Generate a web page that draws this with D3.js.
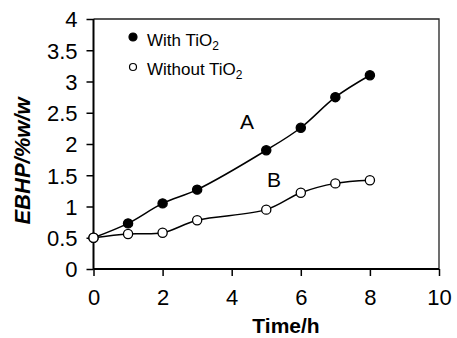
<!DOCTYPE html>
<html>
<head>
<meta charset="utf-8">
<script src="https://cdn.jsdelivr.net/npm/d3@7/dist/d3.min.js"></script>
<style>
  html, body { margin: 0; padding: 0; background: #fff; }
  svg { display: block; }
  text { font-family: "Liberation Sans", Arial, Helvetica, sans-serif; fill: #000; }
</style>
</head>
<body>
<svg id="chart" width="457" height="338"></svg>
<script>
// ---- data ----
const time = [0, 1, 2, 3, 5, 6, 7, 8];
const withTiO2 = [0.5, 0.73, 1.05, 1.27, 1.9, 2.26, 2.75, 3.1];
const withoutTiO2 = [0.5, 0.56, 0.58, 0.78, 0.95, 1.22, 1.37, 1.42];
const xTicks = [0, 2, 4, 6, 8, 10];
const yTicks = [0, 0.5, 1, 1.5, 2, 2.5, 3, 3.5, 4];
const seriesNames = ["With TiO", "Without TiO"];
const curveLabels = ["A", "B"];

// ---- layout ----
const svg = d3.select("#chart");
const pL = 93.5, pR = 439, pT = 19, pB = 269;
const x = d3.scaleLinear().domain([0, 10]).range([pL, pR]);
const y = d3.scaleLinear().domain([0, 4]).range([pB, pT]);

// frame (top and right)
svg.append("path")
  .attr("d", `M${pL},${pT}H${pR}V${pB}`)
  .attr("fill", "none").attr("stroke", "#222").attr("stroke-width", 1.3);

// y axis
const gy = svg.append("g").attr("transform", `translate(${pL},0)`)
  .call(d3.axisLeft(y).tickValues(yTicks).tickSize(7).tickPadding(9)
        .tickFormat(d => String(d)));
gy.select(".domain").attr("stroke", "#000").attr("stroke-width", 2)
  .attr("d", `M0,${pT}V${pB}`);
gy.selectAll(".tick line").attr("stroke", "#000").attr("stroke-width", 1.5);
gy.selectAll(".tick text").style("font-size", "22px")
  .style("font-family", "Liberation Sans, Arial, sans-serif").attr("dy", "0.36em");

// x axis
const gx = svg.append("g").attr("transform", `translate(0,${pB})`)
  .call(d3.axisBottom(x).tickValues(xTicks).tickSize(7).tickPadding(13)
        .tickFormat(d => String(d)));
gx.select(".domain").attr("stroke", "#000").attr("stroke-width", 2)
  .attr("d", `M${pL},0H${pR}`);
gx.selectAll(".tick line").attr("stroke", "#000").attr("stroke-width", 1.5);
gx.selectAll(".tick text").style("font-size", "22px")
  .style("font-family", "Liberation Sans, Arial, sans-serif");

// axis titles
svg.append("text").attr("x", 286).attr("y", 333).attr("text-anchor", "middle")
  .style("font-size", "21px").style("font-weight", "bold").text("Time/h");
svg.append("text").attr("transform", "translate(30,161) rotate(-90)")
  .attr("text-anchor", "middle")
  .style("font-size", "22px").style("font-weight", "bold").style("font-style", "italic")
  .text("EBHP/%w/w");

// lines
const series = [withTiO2, withoutTiO2];
const line = d3.line().x(d => x(d[0])).y(d => y(d[1])).curve(d3.curveCatmullRom.alpha(0.5));
series.forEach(vals => {
  const pts = time.map((t, i) => [t, vals[i]]);
  svg.append("path").attr("d", line(pts)).attr("fill", "none")
    .attr("stroke", "#000").attr("stroke-width", 1.5);
});
// markers
series.forEach((vals, si) => {
  svg.append("g").selectAll("circle").data(time.map((t, i) => [t, vals[i]]))
    .join("circle").attr("cx", d => x(d[0])).attr("cy", d => y(d[1])).attr("r", 4.6)
    .attr("fill", si === 0 ? "#000" : "#fff").attr("stroke", "#000").attr("stroke-width", 1.3);
});

// legend
const leg = [[133, 37, 46], [133, 67, 75]];
seriesNames.forEach((name, i) => {
  svg.append("circle").attr("cx", leg[i][0]).attr("cy", leg[i][1]).attr("r", i === 0 ? 4 : 3.5)
    .attr("fill", i === 0 ? "#000" : "#fff").attr("stroke", "#000").attr("stroke-width", 1.2);
  const t = svg.append("text").attr("x", 147).attr("y", leg[i][2]).style("font-size", "17px");
  t.append("tspan").text(name);
  t.append("tspan").attr("dy", 4).style("font-size", "12px").text("2");
});

// curve labels
svg.append("text").attr("x", 240).attr("y", 129).style("font-size", "21px").text(curveLabels[0]);
svg.append("text").attr("x", 267).attr("y", 187).style("font-size", "21px").text(curveLabels[1]);
</script>
</body>
</html>
